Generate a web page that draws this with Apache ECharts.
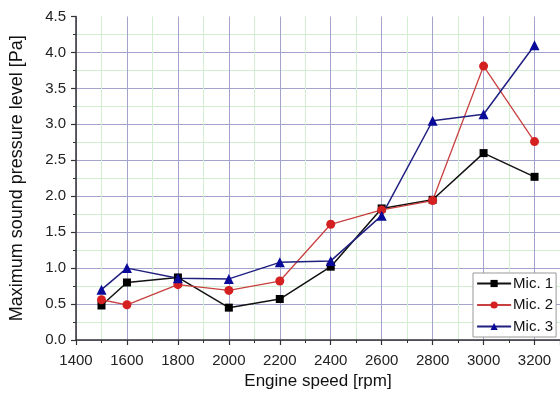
<!DOCTYPE html>
<html><head><meta charset="utf-8">
<script src="https://cdn.jsdelivr.net/npm/echarts@6/dist/echarts.min.js"></script>
<style>html,body{margin:0;padding:0;background:#fff}#c{width:560px;height:406px}</style>
</head><body><div id="c"></div>
<script>
const speeds = [1500, 1600, 1800, 2000, 2200, 2400, 2600, 2800, 3000, 3200];
const mic1 = [0.48, 0.80, 0.87, 0.45, 0.57, 1.02, 1.83, 1.95, 2.60, 2.27];
const mic2 = [0.56, 0.49, 0.77, 0.69, 0.82, 1.61, 1.81, 1.94, 3.81, 2.76];
const mic3 = [0.70, 1.00, 0.86, 0.85, 1.08, 1.10, 1.73, 3.05, 3.14, 4.10];
const seriesNames = ['Mic. 1', 'Mic. 2', 'Mic. 3'];
const xTitle = 'Engine speed [rpm]';
const yTitle = 'Maximum sound pressure level [Pa]';

const font = 'Liberation Sans, Arial, sans-serif';
const major = '#a2a2cc';
const pairs = arr => speeds.map((s, i) => [s, arr[i]]);
const chart = echarts.init(document.getElementById('c'), null, {renderer: 'canvas'});
const mk = (name, data, color, lineColor, symbol, size, width) => ({
  name, type: 'line', data: pairs(data), symbol, symbolSize: size,
  itemStyle: {color}, lineStyle: {color: lineColor, width},
  emphasis: {disabled: true}, animation: false
});
chart.setOption({
  animation: false,
  grid: {left: 73, right: -2, top: 16.5, bottom: 66},
  legend: {
    orient: 'vertical', left: 473, top: 273,
    padding: [3, 3, 3, 3], itemGap: 6.5, itemWidth: 34, itemHeight: 9,
    borderColor: '#999', borderWidth: 1, backgroundColor: '#fff',
    lineStyle: {width: 2.2},
    textStyle: {fontFamily: font, fontSize: 15, color: '#111', padding: [0, 0, 0, -3]},
    data: seriesNames
  },
  xAxis: {
    type: 'value', min: 1400, max: 3300, interval: 200,
    name: xTitle, nameLocation: 'middle', nameGap: 32,
    nameTextStyle: {fontFamily: font, fontSize: 17, color: '#111', verticalAlign: 'top'},
    axisLine: {show: true, onZero: false, lineStyle: {color: '#333', width: 1.5}},
    axisTick: {show: true, inside: false, length: 5, lineStyle: {color: '#333', width: 1.2}},
    minorTick: {show: true, splitNumber: 2, length: 3, lineStyle: {color: '#333', width: 1}},
    axisLabel: {fontFamily: font, fontSize: 15, color: '#222', margin: 13, showMaxLabel: false,
      formatter: v => String(v)},
    splitLine: {show: true, lineStyle: {color: major, width: 1}},
    minorSplitLine: {show: true, lineStyle: {color: '#d2efd2', width: 1}}
  },
  yAxis: {
    type: 'value', min: 0, max: 4.5, interval: 0.5,
    name: yTitle, nameLocation: 'middle', nameGap: 50, nameRotate: 90,
    nameTextStyle: {fontFamily: font, fontSize: 18, color: '#111'},
    axisLine: {show: true, lineStyle: {color: '#333', width: 1.5}},
    axisTick: {show: true, inside: false, length: 5, lineStyle: {color: '#333', width: 1.2}},
    minorTick: {show: true, splitNumber: 2, length: 3, lineStyle: {color: '#333', width: 1}},
    axisLabel: {fontFamily: font, fontSize: 15, color: '#222', margin: 10,
      formatter: v => v.toFixed(1)},
    splitLine: {show: true, lineStyle: {color: [major, major, major, major, major, major, major, major, major, 'rgba(0,0,0,0)'], width: 1}},
    minorSplitLine: {show: true, lineStyle: {color: '#d2efd2', width: 1}}
  },
  series: [
    mk(seriesNames[0], mic1, '#000000', '#111111', 'rect', 8, 1.5),
    mk(seriesNames[1], mic2, '#d42020', '#c84040', 'circle', 9, 1.3),
    mk(seriesNames[2], mic3, '#0a0a9a', '#202080', 'triangle', 10, 1.5)
  ]
});
</script></body></html>
